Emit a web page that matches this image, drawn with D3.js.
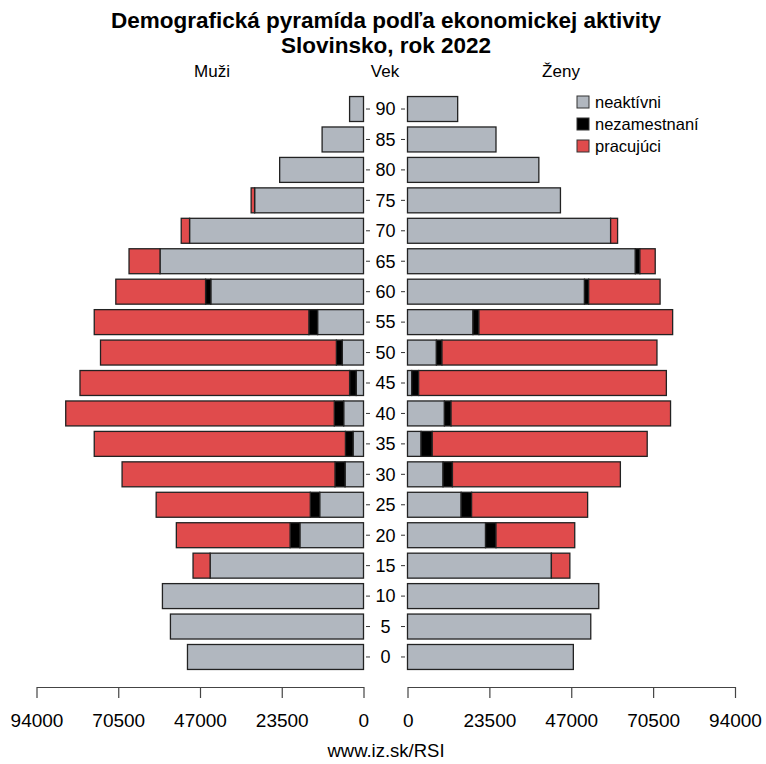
<!DOCTYPE html>
<html>
<head>
<meta charset="utf-8">
<script src="https://cdn.jsdelivr.net/npm/d3@7"></script>
<style>
  body { margin: 0; background: #fff; }
  svg text { font-family: "Liberation Sans", Arial, sans-serif; fill: #000; }
</style>
</head>
<body>
<div id="chart"></div>
<script>
// age groups, bottom to top
const ages = [0, 5, 10, 15, 20, 25, 30, 35, 40, 45, 50, 55, 60, 65, 70, 75, 80, 85, 90];

// men
const menInactive   = [50600, 55500, 57800, 44100, 18300, 12600, 5300, 3000, 5700, 2100, 6100, 13200, 43900, 58500, 50000, 31300, 24100, 11900, 4000];
const menUnemployed = [0, 0, 0, 0, 2800, 2700, 2900, 2200, 2700, 1900, 1700, 2500, 1500, 0, 0, 0, 0, 0, 0];
const menEmployed   = [0, 0, 0, 4900, 32700, 44300, 61200, 72200, 77200, 77500, 67800, 61700, 25800, 8900, 2400, 1000, 0, 0, 0];

// women
const womenInactive   = [47600, 52600, 54900, 41300, 22400, 15400, 10200, 3900, 10600, 1200, 8300, 18800, 50800, 65400, 58300, 43900, 37700, 25400, 14400];
const womenUnemployed = [0, 0, 0, 0, 3000, 3000, 2700, 3200, 1900, 2000, 1600, 1700, 1200, 1300, 0, 0, 0, 0, 0];
const womenEmployed   = [0, 0, 0, 5300, 22600, 33300, 48200, 61700, 63000, 71100, 61700, 55600, 20500, 4400, 2000, 0, 0, 0, 0];

const xTicks = [0, 23500, 47000, 70500, 94000];
const keys = ["neaktivni", "nezamestnani", "pracujuci"];
const legendLabels = ["neaktívni", "nezamestnaní", "pracujúci"];
const colors = { neaktivni: "#b1b7bf", nezamestnani: "#000000", pracujuci: "#e04b4c" };

const width = 766, height = 764;
const svg = d3.select("#chart").append("svg")
  .attr("width", width)
  .attr("height", height);

const y = d3.scaleBand()
  .domain(ages.slice().reverse())
  .range([93.8, 672.2])
  .paddingInner(0.18)
  .paddingOuter(0.09);

const xLeft = d3.scaleLinear().domain([0, 94000]).range([363.5, 36.5]);
const xRight = d3.scaleLinear().domain([0, 94000]).range([407.5, 735]);

function rows(inact, unemp, emp) {
  return ages.map((a, i) => ({ age: a, neaktivni: inact[i], nezamestnani: unemp[i], pracujuci: emp[i] }));
}

const stack = d3.stack().keys(keys);
const menSeries = stack(rows(menInactive, menUnemployed, menEmployed));
const womenSeries = stack(rows(womenInactive, womenUnemployed, womenEmployed));

function drawSide(series, x, left) {
  const g = svg.append("g");
  g.selectAll("g")
    .data(series)
    .join("g")
    .attr("fill", d => colors[d.key])
    .selectAll("rect")
    .data(d => d.filter(s => s[1] - s[0] > 0))
    .join("rect")
    .attr("x", d => left ? x(d[1]) : x(d[0]))
    .attr("width", d => Math.abs(x(d[1]) - x(d[0])))
    .attr("y", d => y(d.data.age))
    .attr("height", y.bandwidth())
    .attr("stroke", "#222")
    .attr("stroke-width", 1.3);
}

drawSide(menSeries, xLeft, true);
drawSide(womenSeries, xRight, false);

// age labels in the middle
const mid = svg.append("g");
mid.selectAll("text")
  .data(ages)
  .join("text")
  .attr("x", 385.5)
  .attr("y", d => y(d) + y.bandwidth() / 2)
  .attr("dy", "0.35em")
  .attr("text-anchor", "middle")
  .attr("font-size", 18)
  .text(d => d);
mid.selectAll("line.l")
  .data(ages)
  .join("line")
  .attr("class", "l")
  .attr("x1", 366).attr("x2", 370)
  .attr("y1", d => y(d) + y.bandwidth() / 2)
  .attr("y2", d => y(d) + y.bandwidth() / 2)
  .attr("stroke", "#333");
mid.selectAll("line.r")
  .data(ages)
  .join("line")
  .attr("class", "r")
  .attr("x1", 401).attr("x2", 405)
  .attr("y1", d => y(d) + y.bandwidth() / 2)
  .attr("y2", d => y(d) + y.bandwidth() / 2)
  .attr("stroke", "#333");

// bottom axes
const axisY = 687;
const axL = svg.append("g")
  .attr("transform", `translate(0,${axisY})`)
  .call(d3.axisBottom(xLeft).tickValues(xTicks).tickFormat(d3.format("d")).tickSize(11).tickSizeOuter(0).tickPadding(16));
const axR = svg.append("g")
  .attr("transform", `translate(0,${axisY})`)
  .call(d3.axisBottom(xRight).tickValues(xTicks).tickFormat(d3.format("d")).tickSize(11).tickSizeOuter(0).tickPadding(16));
[axL, axR].forEach(ax => {
  ax.selectAll("path, line").attr("stroke", "#444").attr("stroke-width", 1.2);
  ax.selectAll("text").attr("font-size", 19).attr("font-family", "Liberation Sans, Arial, sans-serif").attr("fill", "#000");
});
// the two zero labels sit close to the centre gap
axL.selectAll("text").filter(d => d === 0).attr("text-anchor", "end").attr("dx", 5);
axR.selectAll("text").filter(d => d === 0).attr("text-anchor", "start").attr("dx", -5);

// titles
svg.append("text")
  .attr("x", 386).attr("y", 28)
  .attr("text-anchor", "middle")
  .attr("font-size", 22.5).attr("font-weight", "bold")
  .text("Demografická pyramída podľa ekonomickej aktivity");
svg.append("text")
  .attr("x", 386).attr("y", 53)
  .attr("text-anchor", "middle")
  .attr("font-size", 22.5).attr("font-weight", "bold")
  .text("Slovinsko, rok 2022");

const heads = [["Muži", 212], ["Vek", 385], ["Ženy", 561]];
svg.selectAll("text.head")
  .data(heads)
  .join("text")
  .attr("class", "head")
  .attr("x", d => d[1]).attr("y", 77)
  .attr("text-anchor", "middle")
  .attr("font-size", 17)
  .text(d => d[0]);

// legend
const legend = svg.append("g").attr("transform", "translate(577,102)");
const li = legend.selectAll("g")
  .data(keys)
  .join("g")
  .attr("transform", (d, i) => `translate(0,${i * 22})`);
li.append("rect")
  .attr("x", 0).attr("y", -6)
  .attr("width", 12).attr("height", 12)
  .attr("fill", d => colors[d])
  .attr("stroke", "#333")
  .attr("stroke-width", 1);
li.append("text")
  .attr("x", 18).attr("y", 0)
  .attr("dy", "0.35em")
  .attr("font-size", 16.5)
  .text((d, i) => legendLabels[i]);

// footer
svg.append("text")
  .attr("x", 386).attr("y", 757)
  .attr("text-anchor", "middle")
  .attr("font-size", 18.5)
  .text("www.iz.sk/RSI");
</script>
</body>
</html>
